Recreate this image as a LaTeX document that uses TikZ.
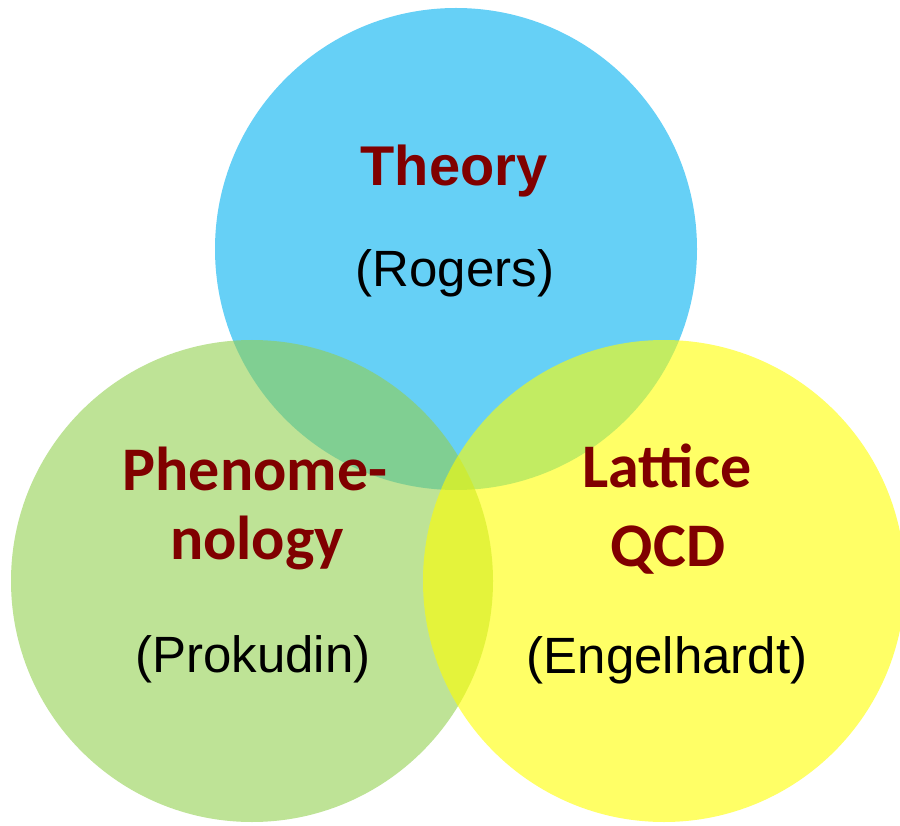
\documentclass[tikz,border=0pt]{standalone}
\usepackage{fontspec}
\setmainfont{Liberation Sans}
\newfontfamily\carlito{Carlito}
\usepackage{tikz}
\usetikzlibrary{positioning}
\definecolor{vennblue}{RGB}{0,176,240}
\definecolor{venngreen}{RGB}{146,208,80}
\definecolor{vennyellow}{RGB}{255,255,0}
\definecolor{vennred}{RGB}{128,0,0}
\tikzset{
  %% ---- circles ----
  venn/.style   = {circle, draw=none, fill=#1, fill opacity=0.6,
                   minimum size=482pt, inner sep=0pt},
  %% ---- labels ----
  topic/.style  = {anchor=base, inner sep=0pt, text=vennred,
                   font=\fontsize{56}{60}\selectfont\bfseries},
  topicc/.style = {anchor=base, inner sep=0pt, text=vennred,
                   font=\carlito\fontsize{62}{66}\selectfont\bfseries},
  who/.style    = {anchor=base, inner sep=0pt, text=black,
                   font=\fontsize{51}{56}\selectfont},
}
\begin{document}
\begin{tikzpicture}[x=1pt, y=-1pt]
  \useasboundingbox (0,0) rectangle (900,826);

  \node[venn=vennblue]   (theo) at (456,249) {};
  \node[venn=venngreen]  (phen) at (252,581) {};
  \node[venn=vennyellow] (latt) at (664,581) {};

  \node[topic]  (theoname) at (454,186) {Theory};
  \node[who]    (theowho)  at (455,287) {(Rogers)};

  \node[topicc] (phenname) at (255,490) {Phenome-};
  \node[topicc] (phenname2) at (257,559) {nology};
  \node[who]    (phenwho)  at (253,672) {(Prokudin)};

  \node[topicc] (lattname) at (667,487) {Lattice};
  \node[topicc] (lattname2) at (668,566) {QCD};
  \node[who]    (lattwho)  at (667,673) {(Engelhardt)};

\end{tikzpicture}
\end{document}
